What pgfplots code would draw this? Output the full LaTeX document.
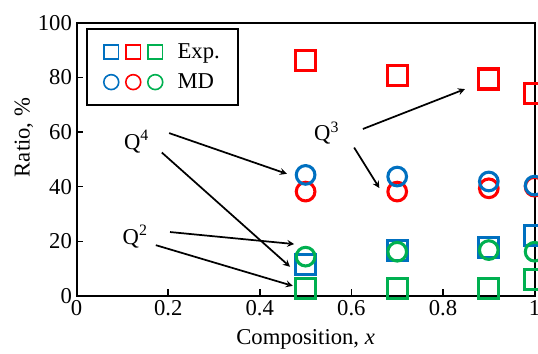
\documentclass[border=0pt]{standalone}
\usepackage{fontspec}
\setmainfont{Liberation Serif}
\usepackage{pgfplots}
\pgfplotsset{compat=1.18}
\definecolor{cb}{HTML}{0070C0}
\definecolor{cr}{HTML}{FF0000}
\definecolor{cg}{HTML}{00B050}
\pgfplotstableread{
x    bsq  rsq  gsq  rci  bci  gci
0.5  11.4 86.2 2.8  38.2 44.3 14.4
0.7  16.8 80.7 2.8  38.2 43.7 16.2
0.9  17.8 79.4 2.8  39.4 41.9 16.8
1.0  22.3 74.0 5.9  40.0 40.4 16.2
}\datatable
\begin{document}
\begin{tikzpicture}[x=1pt,y=1pt]
\begin{axis}[
 at={(0,0)}, anchor=south west,
 scale only axis, width=343.5pt, height=205pt,
 xmin=0, xmax=1, ymin=0, ymax=100,
 xtick={0,0.2,0.4,0.6,0.8,1}, ytick={0,20,40,60,80,100},
 xticklabels={0,0.2,0.4,0.6,0.8,1},
 tick align=inside, xtick pos=bottom, ytick pos=left,
 major tick length=5pt,
 axis line style={line width=1.5pt},
 tick style={line width=1.2pt, black},
 font=\fontsize{17}{20}\selectfont,
 ticklabel style={font=\fontsize{17}{20}\selectfont},
 /pgf/number format/assume math mode=true,
 xlabel={Composition, \textit{x}},
 ylabel={Ratio, \%},
 xlabel style={at={(axis description cs:0.5,-0.158)}, anchor=center},
 ylabel style={at={(axis description cs:-0.115,0.58)}, anchor=center},
 legend style={at={(axis cs:0.0205,98.1)}, anchor=north west, draw=black, line width=1.5pt,
   font=\fontsize{17}{20}\selectfont, inner xsep=12pt, inner ysep=9pt, row sep=6pt},
 legend cell align=left,
 mark options={solid, line width=2.3pt},
]
\addlegendimage{legend image code/.code={
  \draw[cb, line width=1.2pt] (-5.3pt,-5.3pt) rectangle (5.3pt,5.3pt);
  \draw[cr, line width=1.2pt] (11.2pt,-5.3pt) rectangle (21.8pt,5.3pt);
  \draw[cg, line width=1.2pt] (27.7pt,-5.3pt) rectangle (38.3pt,5.3pt);
  \path (47pt,0pt);
}}
\addlegendentry{Exp.}
\addlegendimage{legend image code/.code={
  \draw[cb, line width=1.2pt] (0pt,0pt) circle (5.6pt);
  \draw[cr, line width=1.2pt] (16.5pt,0pt) circle (5.6pt);
  \draw[cg, line width=1.2pt] (33pt,0pt) circle (5.6pt);
  \path (47pt,0pt);
}}
\addlegendentry{MD}
\addplot[only marks, mark=square, mark size=7.5pt, cb, forget plot] table[x=x,y=bsq]{\datatable};
\addplot[only marks, mark=square, mark size=7.5pt, cr, forget plot] table[x=x,y=rsq]{\datatable};
\addplot[only marks, mark=square, mark size=7.5pt, cg, forget plot] table[x=x,y=gsq]{\datatable};
\addplot[only marks, mark=o, mark size=7pt, cr, forget plot] table[x=x,y=rci]{\datatable};
\addplot[only marks, mark=o, mark size=7pt, cb, forget plot] table[x=x,y=bci]{\datatable};
\addplot[only marks, mark=o, mark size=7pt, cg, forget plot] table[x=x,y=gci]{\datatable};
\draw[-stealth, line width=1.3pt] (axis cs:0.202,59.6) -- (axis cs:0.459,44.7);
\draw[-stealth, line width=1.3pt] (axis cs:0.186,52.5) -- (axis cs:0.466,10.7);
\draw[-stealth, line width=1.3pt] (axis cs:0.204,23.4) -- (axis cs:0.475,19.0);
\draw[-stealth, line width=1.3pt] (axis cs:0.173,18.6) -- (axis cs:0.472,3.7);
\draw[-stealth, line width=1.3pt] (axis cs:0.625,61.1) -- (axis cs:0.848,75.7);
\draw[-stealth, line width=1.3pt] (axis cs:0.606,54.3) -- (axis cs:0.661,39.5);
\node[font=\fontsize{17}{20}\selectfont] at (axis cs:0.131,56.5) {Q\textsuperscript{4}};
\node[font=\fontsize{17}{20}\selectfont] at (axis cs:0.128,21.7) {Q\textsuperscript{2}};
\node[font=\fontsize{17}{20}\selectfont] at (axis cs:0.546,59.6) {Q\textsuperscript{3}};
\end{axis}
\pgfresetboundingbox
\path[use as bounding box] (-57.45pt,-42.75pt) rectangle (346.05pt,222pt);
\end{tikzpicture}
\end{document}
